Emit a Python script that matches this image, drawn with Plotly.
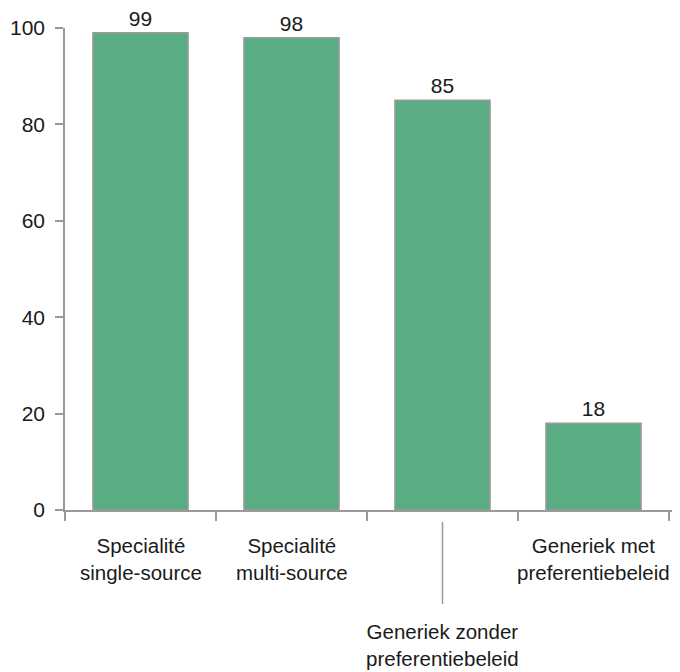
import plotly.graph_objects as go

categories = ["Specialité single-source", "Specialité multi-source",
              "Generiek zonder preferentiebeleid", "Generiek met preferentiebeleid"]
label_lines = [["Specialité", "single-source"], ["Specialité", "multi-source"],
               ["Generiek zonder", "preferentiebeleid"], ["Generiek met", "preferentiebeleid"]]
values = [99, 98, 85, 18]
y_ticks = [0, 20, 40, 60, 80, 100]

FONT = "Liberation Sans, Arial, sans-serif"
GRAY = "#9a9a9a"
TXT = "#1a1a1a"

fig = go.Figure(go.Bar(
    x=categories, y=values,
    width=0.63,
    marker=dict(color="#5aad82", line=dict(color=GRAY, width=1.5)),
    text=[str(v) for v in values], textposition="outside",
    textfont=dict(family=FONT, size=21, color=TXT),
    cliponaxis=False,
))

annotations = []
for i, (cat, lines) in enumerate(zip(categories, label_lines)):
    low = (i == 2)
    annotations.append(dict(
        x=cat, xref="x", y=-0.281 if low else -0.1017, yref="paper",
        text="<br>".join(lines), showarrow=False, yanchor="middle", xanchor="center",
        font=dict(family=FONT, size=20.5, color=TXT),
    ))

shapes = [dict(type="line", xref="x", yref="paper", x0=categories[2], x1=categories[2],
               y0=-0.0249, y1=-0.195, line=dict(color=GRAY, width=1.5))]

fig.update_layout(
    width=680, height=672,
    margin=dict(l=65, r=8, t=28, b=162),
    paper_bgcolor="white", plot_bgcolor="white",
    showlegend=False,
    annotations=annotations, shapes=shapes,
    xaxis=dict(type="category", showticklabels=False, ticks="outside", tickson="boundaries",
               ticklen=9, tickcolor=GRAY, tickwidth=1.5, showline=True, linecolor=GRAY,
               linewidth=1.5, showgrid=False, zeroline=False, automargin=False),
    yaxis=dict(range=[0, 100], tickvals=y_ticks, ticks="outside", ticklen=8, tickcolor=GRAY,
               tickwidth=1.5, showline=True, linecolor=GRAY, linewidth=1.5, showgrid=False,
               zeroline=False, ticklabelstandoff=6, automargin=False,
               tickfont=dict(family=FONT, size=21, color=TXT)),
)

fig.write_html("out.html")
